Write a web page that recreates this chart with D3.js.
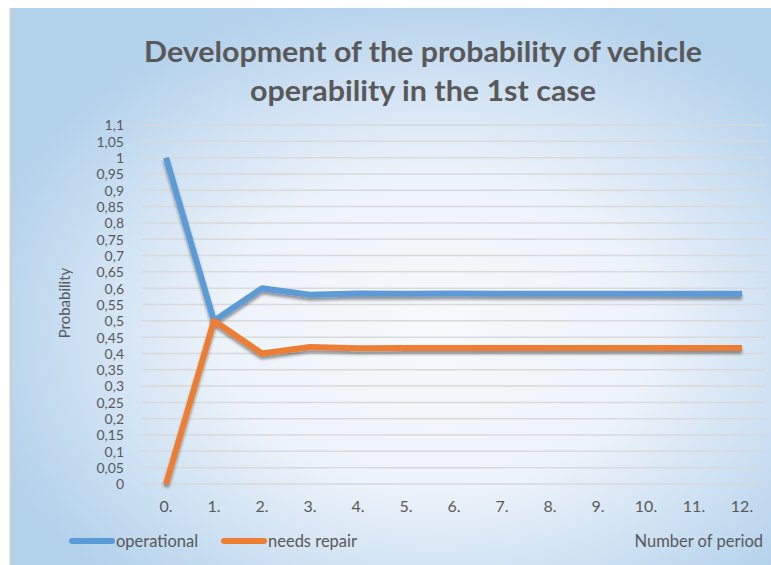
<!DOCTYPE html>
<html>
<head>
<meta charset="utf-8">
<script src="https://cdn.jsdelivr.net/npm/d3@7"></script>
<style>
  body { margin: 0; background: #fff; }
  text { font-family: Lato, "Open Sans", sans-serif; fill: #595959; }
</style>
</head>
<body>
<svg id="chart" width="771" height="565"></svg>
<script>
const periods = ['0.', '1.', '2.', '3.', '4.', '5.', '6.', '7.', '8.', '9.', '10.', '11.', '12.']
const operational = [1, 0.5, 0.6, 0.58, 0.584, 0.5832, 0.5834, 0.5833, 0.5833, 0.5833, 0.5833, 0.5833, 0.5833]
const needsRepair = [0, 0.5, 0.4, 0.42, 0.416, 0.4168, 0.4166, 0.4167, 0.4167, 0.4167, 0.4167, 0.4167, 0.4167]
const yTicks = d3.range(0, 23).map(i => +(i * 0.05).toFixed(2))

const width = 771, height = 565
const plot = { left: 142, right: 766, top: 125, bottom: 484 }
const font = 'Lato, "Open Sans", sans-serif'

const svg = d3.select('#chart')
const defs = svg.append('defs')

// background glow, whiter in the middle
const grad = defs.append('radialGradient')
  .attr('id', 'bg')
  .attr('cx', '0.56').attr('cy', '0.58').attr('r', '0.62')
grad.append('stop').attr('offset', '0').attr('stop-color', '#f7fafd')
grad.append('stop').attr('offset', '0.45').attr('stop-color', '#edf3fa')
grad.append('stop').attr('offset', '1').attr('stop-color', '#b2d1eb')

const shadow = defs.append('filter').attr('id', 'shadow')
  .attr('x', '-5%').attr('y', '-5%').attr('width', '110%').attr('height', '120%')
shadow.append('feDropShadow')
  .attr('dx', 0).attr('dy', 3).attr('stdDeviation', 1.8)
  .attr('flood-color', '#000').attr('flood-opacity', 0.4)

svg.append('rect')
  .attr('x', 10).attr('y', 8)
  .attr('width', width - 10).attr('height', height - 8)
  .attr('fill', 'url(#bg)')
svg.append('line')
  .attr('x1', 10.5).attr('x2', 10.5).attr('y1', 8).attr('y2', height)
  .attr('stroke', '#d0d0d0').attr('stroke-width', 2)

// title
const title = svg.append('text')
  .attr('text-anchor', 'middle')
  .style('font-weight', 'bold').style('font-size', '29px')
title.append('tspan').attr('x', 423).attr('y', 62)
  .attr('textLength', 558).attr('lengthAdjust', 'spacingAndGlyphs')
  .text('Development of the probability of vehicle')
title.append('tspan').attr('x', 423).attr('y', 101)
  .attr('textLength', 346).attr('lengthAdjust', 'spacingAndGlyphs')
  .text('operability in the 1st case')

const x = d3.scaleBand()
  .domain(periods)
  .range([plot.left, plot.right])

const y = d3.scaleLinear()
  .domain([0, 1.1])
  .range([plot.bottom, plot.top])

// gridlines
svg.append('g')
  .selectAll('line')
  .data(yTicks)
  .join('line')
    .attr('x1', plot.left).attr('x2', plot.right)
    .attr('y1', d => y(d)).attr('y2', d => y(d))
    .attr('stroke', '#d9d9d9').attr('stroke-width', 1.5)

// y axis
const yAxis = svg.append('g')
  .attr('transform', `translate(${plot.left - 18},0)`)
  .call(d3.axisLeft(y).tickValues(yTicks).tickSize(0).tickPadding(0)
    .tickFormat(d => String(d).replace('.', ',')))
yAxis.select('.domain').remove()
yAxis.selectAll('text')
  .style('font-size', '14px')
  .style('font-family', font)
  .attr('fill', '#595959')
  .attr('dy', '0.35em')

// x axis
const xAxis = svg.append('g')
  .attr('transform', `translate(0,${plot.bottom})`)
  .call(d3.axisBottom(x).tickSize(0).tickPadding(17))
xAxis.select('.domain').remove()
xAxis.selectAll('text')
  .style('font-size', '16px')
  .style('font-family', font)
  .attr('fill', '#595959')

svg.append('text')
  .attr('transform', 'translate(70,303) rotate(-90)')
  .attr('text-anchor', 'middle')
  .style('font-size', '15px')
  .text('Probability')

// lines
const line = d3.line()
  .x((d, i) => x(periods[i]) + x.bandwidth() / 2)
  .y(d => y(d))

const series = [
  { name: 'operational', values: operational, color: '#5b9bd5' },
  { name: 'needs repair', values: needsRepair, color: '#ed7d31' }
]

svg.append('g')
  .selectAll('path')
  .data(series)
  .join('path')
    .attr('d', d => line(d.values))
    .attr('fill', 'none')
    .attr('stroke', d => d.color)
    .attr('stroke-width', 6)
    .attr('stroke-linejoin', 'round')
    .attr('filter', 'url(#shadow)')

// legend
const legend = svg.append('g')
  .selectAll('g')
  .data(series)
  .join('g')
    .attr('transform', (d, i) => `translate(${[72, 224][i]},541)`)
legend.append('line')
  .attr('x1', 0).attr('x2', 40)
  .attr('stroke', d => d.color)
  .attr('stroke-width', 6)
  .attr('stroke-linecap', 'round')
legend.append('text')
  .attr('x', 44).attr('dy', '0.35em')
  .style('font-size', '16.5px')
  .text(d => d.name)

svg.append('text')
  .attr('x', 763).attr('y', 541).attr('dy', '0.35em')
  .attr('text-anchor', 'end')
  .style('font-size', '16.5px')
  .text('Number of period')
</script>
</body>
</html>
